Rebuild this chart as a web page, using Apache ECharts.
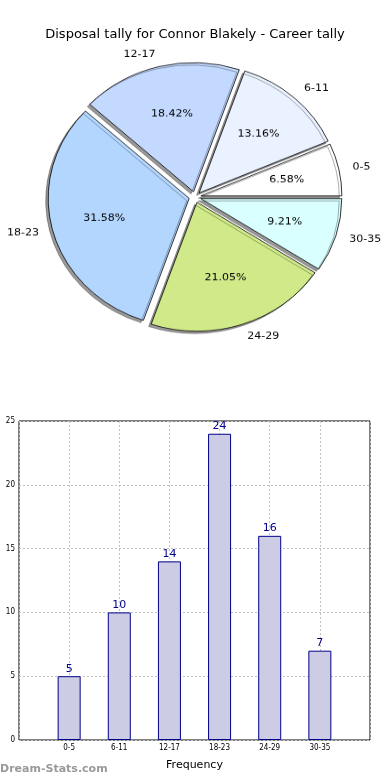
<!DOCTYPE html>
<html><head><meta charset="utf-8">
<script src="https://cdn.jsdelivr.net/npm/echarts@6/dist/echarts.min.js"></script>
<style>
html,body{margin:0;padding:0;background:#fff;}
#main{position:absolute;left:0;top:0;width:390px;height:780px;}
#pie{position:absolute;left:0;top:0;width:390px;height:394px;transform:scaleY(0.915);transform-origin:195px 197px;}
</style></head>
<body>
<div id="main"></div>
<div id="pie"></div>
<script>
const titleText = 'Disposal tally for Connor Blakely - Career tally';
const categories = ['0-5','6-11','12-17','18-23','24-29','30-35'];
const values = [5,10,14,24,16,7];
const sliceColors = ['#ffffff','#eaf1ff','#c4d9ff','#b3d6ff','#d0ea8a','#d9ffff'];
const yTicks = {min:0, max:25, interval:5};
const xAxisName = 'Frequency';
const yAxisName = 'Number of Games';
const watermark = 'Dream-Stats.com';

const FONT = 'DejaVu Sans';
const main = echarts.init(document.getElementById('main'), null, {renderer:'canvas'});
main.setOption({
  animation:false,
  title:{text:titleText,left:'center',top:23,textStyle:{fontFamily:FONT,fontSize:13,fontWeight:'normal',color:'#000'}},
  grid:{left:19,right:20,top:421,bottom:40,show:true,borderColor:'#000',borderWidth:1,containLabel:false,outerBoundsMode:'none'},
  xAxis:{type:'value',min:-1,max:6,interval:1,
    name:xAxisName,nameLocation:'middle',nameGap:20,nameTextStyle:{fontFamily:FONT,fontSize:11,color:'#000'},
    axisLine:{show:false},axisTick:{show:false},
    axisLabel:{fontFamily:'DejaVu Sans Condensed, DejaVu Sans',fontSize:8,color:'#000',margin:4,
      formatter:v=>categories[v]!==undefined?categories[v]:''},
    splitLine:{show:true,lineStyle:{color:'#c0c0c0',type:[2,2],width:1}}},
  yAxis:{type:'value',min:yTicks.min,max:yTicks.max,interval:yTicks.interval,
    name:yAxisName,nameLocation:'middle',nameGap:20,nameTextStyle:{fontFamily:FONT,fontSize:10,color:'#000'},
    axisLine:{show:false},axisTick:{show:false},
    axisLabel:{fontFamily:'DejaVu Sans Condensed, DejaVu Sans',fontSize:8,color:'#000',margin:4},
    splitLine:{show:true,lineStyle:{color:'#c0c0c0',type:[2,2],width:1}}},
  graphic:[{type:'text',left:0,top:764,style:{text:watermark,fontFamily:FONT,fontSize:11,fontWeight:'bold',fill:'#999'}}],
  series:[{type:'bar',barWidth:23,
    data:categories.map((c,i)=>[i,values[i]]),
    itemStyle:{color:'rgb(204,204,228)',borderColor:'#00008b',borderWidth:1},
    label:{show:true,position:'top',distance:2,color:'#00008b',fontFamily:FONT,fontSize:11,formatter:p=>p.value[1]},
    emphasis:{disabled:true}}]
});

const pie = echarts.init(document.getElementById('pie'), null, {renderer:'canvas'});
const R = 141;
const pieData = categories.map((c,i)=>({name:c,value:values[i],selected:true,itemStyle:{color:sliceColors[i]}}));
const pieDataT = categories.map((c,i)=>({name:c,value:values[i],selected:true}));
pie.setOption({
  animation:false,
  series:[
    {type:'pie',radius:R,center:['50%','50%'],clockwise:false,startAngle:0,
     selectedMode:'multiple',selectedOffset:6,avoidLabelOverlap:false,
     data:pieData,
     itemStyle:{borderColor:'#000',borderWidth:0.8,shadowColor:'rgba(0,0,0,0.4)',shadowBlur:0,shadowOffsetX:-2.5,shadowOffsetY:2.5},
     label:{show:true,position:'outside',formatter:'{b}',fontFamily:FONT,fontSize:11,color:'#000',distanceToLabelLine:0},
     labelLine:{show:false,length:14,length2:0},
     emphasis:{disabled:true},select:{itemStyle:{borderColor:'#000',borderWidth:0.8}}},
    {type:'pie',radius:[R*0.2,R],center:['50%','50%'],clockwise:false,startAngle:0,
     selectedMode:'multiple',selectedOffset:6,avoidLabelOverlap:false,silent:true,
     data:pieDataT,
     itemStyle:{color:'rgba(0,0,0,0)',borderWidth:0},
     label:{show:true,position:'inside',formatter:'{d}%',fontFamily:FONT,fontSize:11,color:'#000'},
     labelLine:{show:false},
     emphasis:{disabled:true},select:{itemStyle:{color:'rgba(0,0,0,0)',borderWidth:0}}}
  ]
});
</script>
</body></html>
